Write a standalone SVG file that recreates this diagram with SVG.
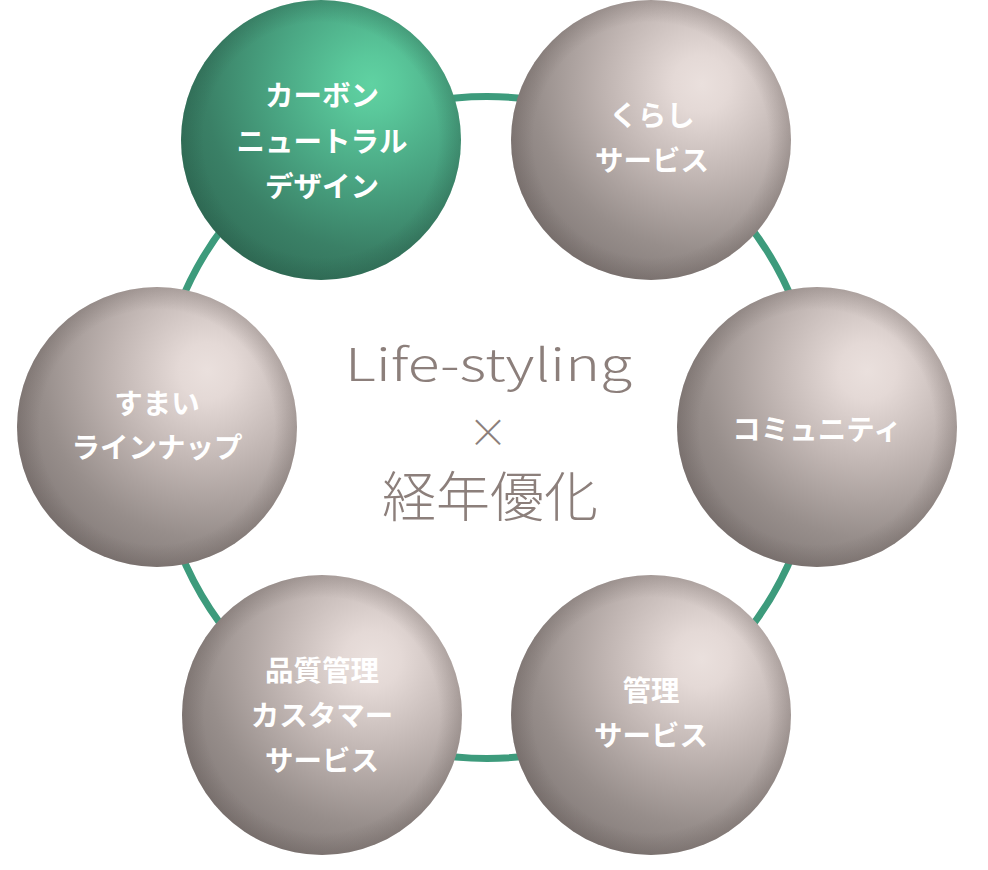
<svg xmlns="http://www.w3.org/2000/svg" width="988" height="870" viewBox="0 0 988 870">
<defs>
<radialGradient id="gray" cx="0.68" cy="0.3" r="0.85">
<stop offset="0" stop-color="#eae0dd"/>
<stop offset="0.12" stop-color="#e4d9d6"/>
<stop offset="0.4" stop-color="#c0b5b2"/>
<stop offset="0.7" stop-color="#978e8b"/>
<stop offset="1" stop-color="#7a7270"/>
</radialGradient>
<radialGradient id="green" cx="0.68" cy="0.3" r="0.85">
<stop offset="0" stop-color="#60d2a2"/>
<stop offset="0.12" stop-color="#5ac89b"/>
<stop offset="0.4" stop-color="#4aa683"/>
<stop offset="0.7" stop-color="#3a8066"/>
<stop offset="1" stop-color="#2f6a54"/>
</radialGradient>
<radialGradient id="rim" cx="0.5" cy="0.5" r="0.5">
<stop offset="0.84" stop-color="#4a3f3c" stop-opacity="0"/>
<stop offset="1" stop-color="#4a3f3c" stop-opacity="0.22"/>
</radialGradient>
<radialGradient id="rimg" cx="0.5" cy="0.5" r="0.5">
<stop offset="0.84" stop-color="#1f4a3a" stop-opacity="0"/>
<stop offset="1" stop-color="#1f4a3a" stop-opacity="0.24"/>
</radialGradient>
</defs>
<style>
.ball-g{fill:url(#gray)}
.ball-k{fill:url(#green)}
.rim{fill:url(#rim)}
.rimg{fill:url(#rimg)}
.lbl{font-family:"Noto Sans CJK JP","Noto Sans",sans-serif;font-weight:700;font-size:28.5px;fill:#ffffff;text-anchor:middle}
.ctr{font-family:"Noto Sans CJK JP","Noto Sans",sans-serif;font-weight:300;fill:#8c7f7b;text-anchor:middle}
</style>
<rect width="988" height="870" fill="#ffffff"/>
<g id="connectors">
<circle cx="487" cy="427.5" r="331" fill="none" stroke="#3d9b7c" stroke-width="7"/>
</g>
<g id="center">
<text class="ctr" x="488.5" y="381" font-size="45" textLength="287" lengthAdjust="spacingAndGlyphs">Life-styling</text>
<text class="ctr" x="488" y="447" font-size="40">×</text>
<text class="ctr" x="490" y="517" font-size="54">経年優化</text>
</g>
<g id="n-carbon">
<circle class="ball-k" cx="321" cy="140" r="140"/>
<circle class="rimg" cx="321" cy="140" r="140"/>
<text class="lbl" x="322" y="106">カーボン</text>
<text class="lbl" x="322" y="152">ニュートラル</text>
<text class="lbl" x="322" y="197">デザイン</text>
</g>
<g id="n-kurashi">
<circle class="ball-g" cx="651" cy="140" r="140"/>
<circle class="rim" cx="651" cy="140" r="140"/>
<text class="lbl" x="652" y="126">くらし</text>
<text class="lbl" x="652" y="171">サービス</text>
</g>
<g id="n-community">
<circle class="ball-g" cx="817" cy="427" r="140"/>
<circle class="rim" cx="817" cy="427" r="140"/>
<text class="lbl" x="817" y="440">コミュニティ</text>
</g>
<g id="n-kanri">
<circle class="ball-g" cx="651" cy="715" r="140"/>
<circle class="rim" cx="651" cy="715" r="140"/>
<text class="lbl" x="651" y="701">管理</text>
<text class="lbl" x="651" y="746">サービス</text>
</g>
<g id="n-quality">
<circle class="ball-g" cx="322" cy="715" r="140"/>
<circle class="rim" cx="322" cy="715" r="140"/>
<text class="lbl" x="322" y="681">品質管理</text>
<text class="lbl" x="322" y="726">カスタマー</text>
<text class="lbl" x="322" y="771">サービス</text>
</g>
<g id="n-sumai">
<circle class="ball-g" cx="157" cy="427" r="140"/>
<circle class="rim" cx="157" cy="427" r="140"/>
<text class="lbl" x="157" y="414">すまい</text>
<text class="lbl" x="157" y="458">ラインナップ</text>
</g>
</svg>
